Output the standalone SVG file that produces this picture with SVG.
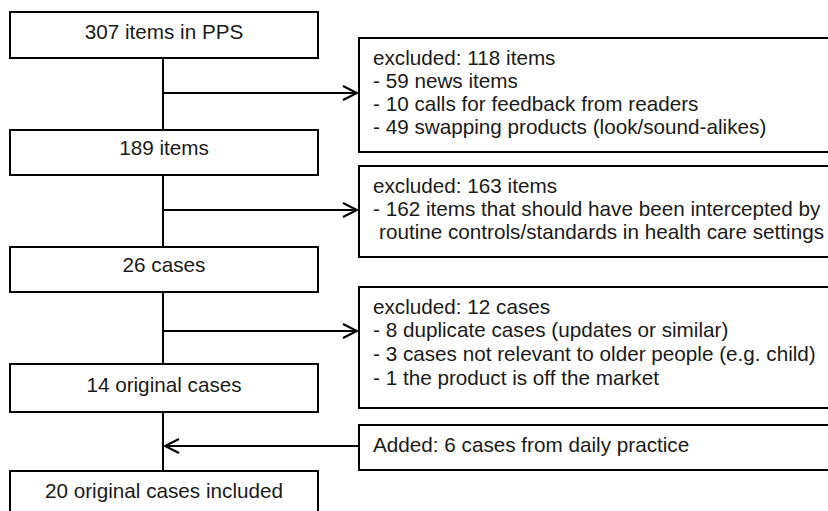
<svg xmlns="http://www.w3.org/2000/svg" width="828" height="511" viewBox="0 0 828 511">
<style>
.box{fill:#fff;stroke:#000;stroke-width:2}
.t{font-family:"Liberation Sans",Arial,sans-serif;font-size:20.7px;fill:#1a1a1a}
.c{text-anchor:middle}
.ln{stroke:#000;stroke-width:2;fill:none}
</style>
<defs>
<marker id="ah" markerUnits="userSpaceOnUse" markerWidth="20" markerHeight="20" refX="15" refY="8" orient="auto" viewBox="0 0 20 20">
<path d="M1,1 L15,8 L1,15" fill="none" stroke="#000" stroke-width="2"/>
</marker>
</defs>
<rect width="828" height="511" fill="#fff"/>
<g id="connectors">
<line class="ln" x1="163" y1="58" x2="163" y2="130"/>
<line class="ln" x1="163" y1="175" x2="163" y2="247"/>
<line class="ln" x1="163" y1="292" x2="163" y2="364"/>
<line class="ln" x1="163" y1="412" x2="163" y2="471"/>
<line class="ln" x1="163" y1="93" x2="357" y2="93" marker-end="url(#ah)"/>
<line class="ln" x1="163" y1="210" x2="357" y2="210" marker-end="url(#ah)"/>
<line class="ln" x1="163" y1="331" x2="357" y2="331" marker-end="url(#ah)"/>
<line class="ln" x1="359" y1="446" x2="165" y2="446" marker-end="url(#ah)"/>
</g>
<g id="n1"><rect class="box" x="10" y="12" width="308" height="46"/><text class="t c" x="164" y="39">307 items in PPS</text></g>
<g id="n2"><rect class="box" x="10" y="130" width="308" height="45"/><text class="t c" x="164" y="155">189 items</text></g>
<g id="n3"><rect class="box" x="10" y="247" width="308" height="45"/><text class="t c" x="164" y="272">26 cases</text></g>
<g id="n4"><rect class="box" x="10" y="364" width="308" height="48"/><text class="t c" x="164" y="392">14 original cases</text></g>
<g id="n5"><rect class="box" x="10" y="471" width="308" height="60"/><text class="t c" x="164" y="498">20 original cases included</text></g>
<g id="e1"><rect class="box" x="359" y="38" width="500" height="114"/>
<text class="t" x="373" y="65">excluded: 118 items</text>
<text class="t" x="373" y="88">- 59 news items</text>
<text class="t" x="373" y="111">- 10 calls for feedback from readers</text>
<text class="t" x="373" y="134">- 49 swapping products (look/sound-alikes)</text></g>
<g id="e2"><rect class="box" x="359" y="166" width="500" height="91"/>
<text class="t" x="373" y="193">excluded: 163 items</text>
<text class="t" x="373" y="216">- 162 items that should have been intercepted by</text>
<text class="t" x="379" y="239">routine controls/standards in health care settings</text></g>
<g id="e3"><rect class="box" x="359" y="287" width="500" height="121"/>
<text class="t" x="373" y="314">excluded: 12 cases</text>
<text class="t" x="373" y="337">- 8 duplicate cases (updates or similar)</text>
<text class="t" x="373" y="361">- 3 cases not relevant to older people (e.g. child)</text>
<text class="t" x="373" y="385">- 1 the product is off the market</text></g>
<g id="a1"><rect class="box" x="359" y="425" width="500" height="45"/>
<text class="t" x="373" y="452">Added: 6 cases from daily practice</text></g>
</svg>
